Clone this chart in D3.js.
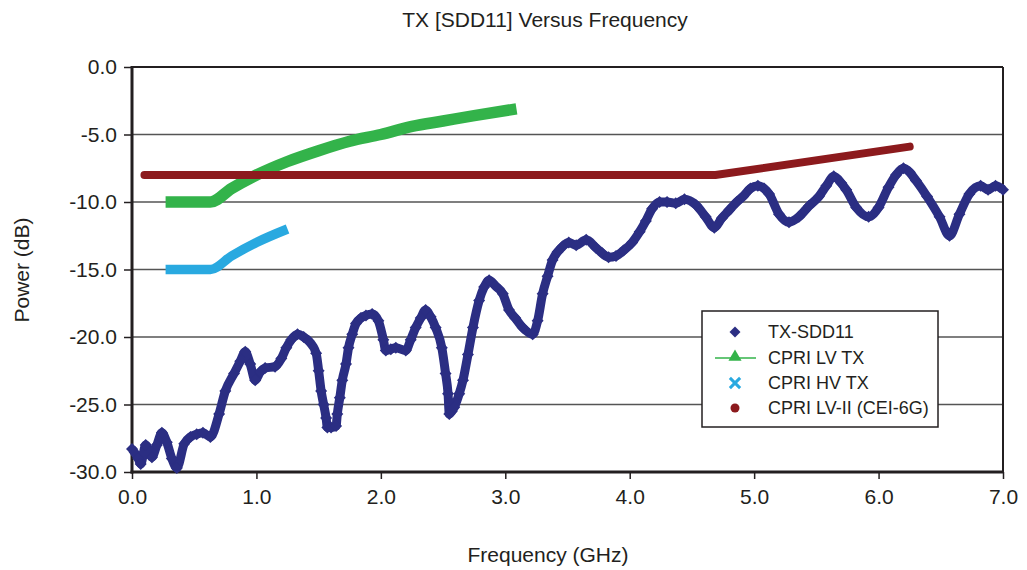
<!DOCTYPE html>
<html>
<head>
<meta charset="utf-8">
<script src="https://cdn.jsdelivr.net/npm/d3@7"></script>
<style>
  body { margin: 0; background: #fff; }
  text { font-family: "Liberation Sans", Arial, sans-serif; fill: #231f20; }
</style>
</head>
<body>
<div class="chart"></div>
<script>
// frequency in GHz, power in dB
const sddFreq = [0.00, 0.05, 0.07, 0.11, 0.16, 0.20, 0.24, 0.28, 0.32, 0.36,
  0.42, 0.47, 0.52, 0.57, 0.63, 0.70, 0.75, 0.82, 0.87, 0.91,
  0.95, 0.99, 1.03, 1.07, 1.15, 1.20, 1.24, 1.28, 1.33, 1.38,
  1.42, 1.48, 1.50, 1.52, 1.54, 1.56, 1.57, 1.60, 1.64, 1.65,
  1.67, 1.69, 1.72, 1.74, 1.77, 1.80, 1.84, 1.88, 1.93, 1.98,
  2.02, 2.04, 2.08, 2.12, 2.20, 2.24, 2.28, 2.32, 2.36, 2.40,
  2.44, 2.49, 2.52, 2.54, 2.55, 2.57, 2.59, 2.63, 2.66, 2.70,
  2.74, 2.79, 2.83, 2.87, 2.92, 2.98, 3.03, 3.08, 3.14, 3.22,
  3.26, 3.30, 3.34, 3.38, 3.42, 3.46, 3.51, 3.57, 3.65, 3.73,
  3.78, 3.83, 3.89, 3.95, 4.02, 4.08, 4.13, 4.18, 4.24, 4.30,
  4.37, 4.44, 4.53, 4.61, 4.68, 4.74, 4.80, 4.86, 4.91, 4.97,
  5.03, 5.08, 5.12, 5.20, 5.28, 5.36, 5.44, 5.52, 5.58, 5.64,
  5.70, 5.74, 5.82, 5.92, 6.00, 6.08, 6.14, 6.20, 6.25, 6.30,
  6.39, 6.49, 6.57, 6.65, 6.73, 6.82, 6.88, 6.94, 7.00];
const sddPower = [-28.3, -29.0, -29.4, -28.0, -28.9, -28.0, -27.1, -27.8, -29.0, -29.7,
  -27.9, -27.4, -27.2, -27.1, -27.4, -25.7, -24.0, -22.7, -21.8, -21.1,
  -22.0, -23.2, -22.6, -22.3, -22.2, -21.6, -20.8, -20.2, -19.8, -20.0,
  -20.3, -21.2, -22.5, -24.0, -25.0, -26.0, -26.7, -26.7, -26.6, -25.7,
  -24.5, -23.2, -22.0, -20.8, -19.8, -19.0, -18.6, -18.4, -18.3, -18.8,
  -20.2, -21.0, -20.9, -20.8, -21.0, -20.2, -19.3, -18.6, -18.0, -18.5,
  -19.3, -20.8, -22.7, -24.2, -25.7, -25.5, -25.2, -24.2, -23.2, -21.3,
  -19.3, -17.3, -16.3, -15.8, -16.2, -16.8, -18.0, -18.6, -19.3, -19.8,
  -18.8, -16.8, -15.5, -14.3, -13.7, -13.3, -13.0, -13.2, -12.8, -13.4,
  -13.8, -14.1, -14.0, -13.6, -13.0, -12.2, -11.4, -10.5, -10.0, -10.0,
  -10.1, -9.8, -10.2, -11.1, -11.9, -11.2, -10.6, -10.0, -9.6, -9.0,
  -8.8, -9.0, -9.4, -10.9, -11.5, -11.1, -10.3, -9.6, -8.8, -8.1,
  -8.6, -9.1, -10.4, -11.1, -10.4, -8.9, -8.0, -7.5, -7.8, -8.4,
  -9.6, -11.1, -12.5, -10.9, -9.4, -8.8, -9.1, -8.8, -9.1];

const lvFreq = [0.27, 0.63, 0.80, 1.00, 1.25, 1.50, 1.75, 2.00, 2.25, 2.50, 2.75, 3.09];
const lvPower = [-10.0, -10.0, -9.0, -8.0, -7.0, -6.2, -5.5, -5.0, -4.4, -4.0, -3.6, -3.1];

const hvFreq = [0.27, 0.63, 0.80, 1.00, 1.25];
const hvPower = [-15.0, -15.0, -14.0, -13.0, -12.0];

const lv2Freq = [0.10, 4.69, 6.25];
const lv2Power = [-8.0, -8.0, -5.9];

const xTicks = [0, 1, 2, 3, 4, 5, 6, 7];
const yTicks = [0, -5, -10, -15, -20, -25, -30];
const seriesNames = ["TX-SDD11", "CPRI LV TX", "CPRI HV TX", "CPRI LV-II (CEI-6G)"];

const navy = "#2b2e83", green = "#33b34a", cyan = "#29a9e0", red = "#8c1a1d", ink = "#231f20";

const width = 1027;
const height = 570;
const plotLeft = 132, plotRight = 1003, plotTop = 67, plotBottom = 472;

const x = d3.scaleLinear().domain([0, 7]).range([plotLeft, plotRight]);
const y = d3.scaleLinear().domain([-30, 0]).range([plotBottom, plotTop]);

const svg = d3.select(".chart")
  .append("svg")
  .attr("width", width)
  .attr("height", height)
  .style("background", "#fff");

// horizontal grid
svg.append("g")
  .selectAll("line")
  .data(yTicks.filter(d => d !== -30))
  .enter()
  .append("line")
  .attr("x1", plotLeft)
  .attr("x2", plotRight)
  .attr("y1", d => y(d))
  .attr("y2", d => y(d))
  .attr("stroke", "#555")
  .attr("stroke-width", 1.4);

// frame top/right
svg.append("line")
  .attr("x1", plotRight).attr("x2", plotRight)
  .attr("y1", plotTop).attr("y2", plotBottom)
  .attr("stroke", ink).attr("stroke-width", 2);
svg.append("line")
  .attr("x1", plotLeft).attr("x2", plotRight)
  .attr("y1", plotTop).attr("y2", plotTop)
  .attr("stroke", ink).attr("stroke-width", 2);

const fmt = d => d.toFixed(1);

const yAxis = svg.append("g")
  .attr("transform", `translate(${plotLeft},0)`)
  .call(d3.axisLeft(y).tickValues(yTicks).tickFormat(fmt).tickSize(8).tickPadding(7));

const xAxis = svg.append("g")
  .attr("transform", `translate(0,${plotBottom})`)
  .call(d3.axisBottom(x).tickValues(xTicks).tickFormat(fmt).tickSize(7).tickPadding(10));

[yAxis, xAxis].forEach(function (ax) {
  ax.select(".domain").remove();
  ax.selectAll(".tick line").attr("stroke", ink).attr("stroke-width", 1.5);
  ax.selectAll(".tick text")
    .attr("fill", ink)
    .style("font-family", "'Liberation Sans', Arial, sans-serif")
    .style("font-size", "21px");
});

svg.append("line")
  .attr("x1", plotLeft).attr("x2", plotLeft)
  .attr("y1", plotTop - 1).attr("y2", plotBottom + 1.5)
  .attr("stroke", ink).attr("stroke-width", 3);
svg.append("line")
  .attr("x1", plotLeft - 1.5).attr("x2", plotRight + 1)
  .attr("y1", plotBottom).attr("y2", plotBottom)
  .attr("stroke", ink).attr("stroke-width", 3);

function pairs(fs, ps) {
  return fs.map((f, i) => [f, ps[i]]);
}

const line = d3.line()
  .x(d => x(d[0]))
  .y(d => y(d[1]));

svg.append("path")
  .datum(pairs(lvFreq, lvPower))
  .attr("d", line.curve(d3.curveMonotoneX))
  .attr("fill", "none")
  .attr("stroke", green)
  .attr("stroke-width", 11.5);

svg.append("path")
  .datum(pairs(hvFreq, hvPower))
  .attr("d", line.curve(d3.curveMonotoneX))
  .attr("fill", "none")
  .attr("stroke", cyan)
  .attr("stroke-width", 9.5);

svg.append("path")
  .datum(pairs(lv2Freq, lv2Power))
  .attr("d", line.curve(d3.curveLinear))
  .attr("fill", "none")
  .attr("stroke", red)
  .attr("stroke-width", 8)
  .attr("stroke-linecap", "round");

const sdd = pairs(sddFreq, sddPower);

svg.append("path")
  .datum(sdd)
  .attr("d", line.curve(d3.curveMonotoneX))
  .attr("fill", "none")
  .attr("stroke", navy)
  .attr("stroke-width", 9)
  .attr("stroke-linejoin", "round");

const diamond = d3.symbol().type(d3.symbolSquare).size(72);

svg.append("g")
  .selectAll("path")
  .data(sdd)
  .enter()
  .append("path")
  .attr("d", diamond)
  .attr("transform", d => `translate(${x(d[0])},${y(d[1])}) rotate(45)`)
  .attr("fill", navy);

// legend
const legend = svg.append("g");
legend.append("rect")
  .attr("x", 702).attr("y", 311)
  .attr("width", 236).attr("height", 116)
  .attr("fill", "#fff")
  .attr("stroke", ink)
  .attr("stroke-width", 1.5);

const rowY = [332, 358, 383, 408];
const symX = 735;

legend.append("path")
  .attr("d", d3.symbol().type(d3.symbolSquare).size(60))
  .attr("transform", `translate(${symX},${rowY[0]}) rotate(45)`)
  .attr("fill", navy);

legend.append("line")
  .attr("x1", 715).attr("x2", 756)
  .attr("y1", rowY[1]).attr("y2", rowY[1])
  .attr("stroke", green).attr("stroke-width", 1.5);
legend.append("path")
  .attr("d", d3.symbol().type(d3.symbolTriangle).size(75))
  .attr("transform", `translate(${symX},${rowY[1] - 1})`)
  .attr("fill", green);

legend.append("path")
  .attr("d", d3.symbol().type(d3.symbolX).size(70))
  .attr("transform", `translate(${symX},${rowY[2]})`)
  .attr("stroke", cyan)
  .attr("stroke-width", 3)
  .attr("fill", "none");

legend.append("circle")
  .attr("cx", symX).attr("cy", rowY[3])
  .attr("r", 4.5)
  .attr("fill", red);

legend.selectAll("text.lbl")
  .data(seriesNames)
  .enter()
  .append("text")
  .attr("class", "lbl")
  .attr("x", 768)
  .attr("y", (d, i) => rowY[i])
  .attr("dy", "0.36em")
  .style("font-size", "18px")
  .text(d => d);

// titles
svg.append("text")
  .attr("x", 545).attr("y", 27)
  .attr("text-anchor", "middle")
  .style("font-size", "21px")
  .text("TX [SDD11] Versus Frequency");

svg.append("text")
  .attr("x", 548).attr("y", 562)
  .attr("text-anchor", "middle")
  .style("font-size", "21px")
  .text("Frequency (GHz)");

svg.append("text")
  .attr("transform", "translate(29,270) rotate(-90)")
  .attr("text-anchor", "middle")
  .style("font-size", "21px")
  .text("Power (dB)");
</script>
</body>
</html>
